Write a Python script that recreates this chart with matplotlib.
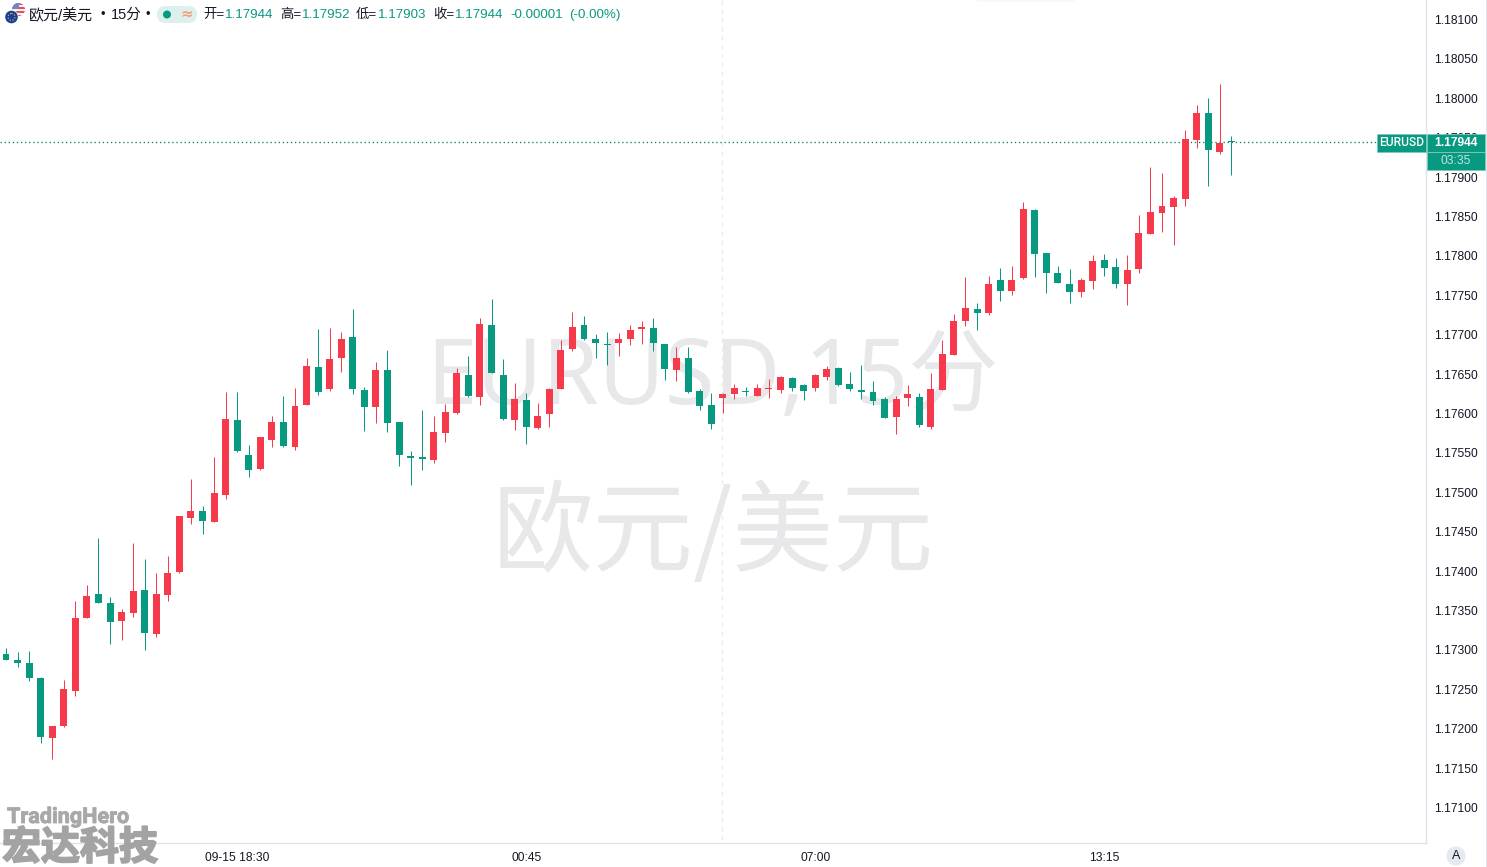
import matplotlib

matplotlib.use("Agg")
import matplotlib.patheffects as pe
import matplotlib.pyplot as plt
from matplotlib.patches import Circle, FancyBboxPatch, Rectangle

plt.rcParams["font.family"] = ["Liberation Sans", "Noto Sans CJK SC", "DejaVu Sans"]

# prices in 1e-5 units
OPEN = [117295, 117287, 117283, 117264, 117188, 117203, 117248, 117341, 117371, 117360,
        117337, 117347, 117376, 117320, 117370, 117399, 117467, 117476, 117462, 117497,
        117592, 117547, 117530, 117566, 117589, 117557, 117611, 117659, 117631, 117670,
        117697, 117630, 117608, 117655, 117589, 117546, 117545, 117541, 117575, 117601,
        117649, 117621, 117712, 117649, 117592, 117617, 117582, 117600, 117631, 117682,
        117712, 117695, 117688, 117689, 117695, 117707, 117708, 117688, 117655, 117670,
        117628, 117611, 117620, 117625, 117628, 117622, 117631, 117630, 117645, 117636,
        117632, 117646, 117658, 117637, 117630, 117627, 117619, 117596, 117620, 117621,
        117583, 117630, 117674, 117717, 117733, 117728, 117769, 117755, 117772, 117858,
        117804, 117778, 117764, 117754, 117768, 117795, 117786, 117764, 117783, 117828,
        117854, 117862, 117872, 117947, 117981, 117932, 117944]
HIGH = [117302, 117297, 117299, 117265, 117203, 117262, 117362, 117382, 117442, 117367,
        117352, 117436, 117415, 117398, 117419, 117470, 117517, 117483, 117545, 117627,
        117627, 117560, 117570, 117597, 117622, 117632, 117670, 117707, 117708, 117703,
        117733, 117634, 117665, 117681, 117589, 117552, 117604, 117597, 117612, 117658,
        117673, 117721, 117745, 117669, 117639, 117626, 117613, 117632, 117693, 117729,
        117724, 117701, 117703, 117702, 117712, 117717, 117721, 117688, 117685, 117684,
        117631, 117626, 117626, 117637, 117634, 117637, 117644, 117648, 117646, 117637,
        117650, 117660, 117659, 117653, 117661, 117641, 117621, 117622, 117636, 117626,
        117651, 117693, 117726, 117773, 117740, 117774, 117785, 117787, 117868, 117860,
        117804, 117787, 117783, 117772, 117801, 117802, 117797, 117801, 117852, 117913,
        117905, 117876, 117960, 117992, 118000, 118018, 117952]
LOW = [117287, 117278, 117260, 117182, 117161, 117202, 117241, 117341, 117360, 117308,
       117313, 117342, 117300, 117316, 117362, 117397, 117460, 117447, 117462, 117492,
       117551, 117519, 117528, 117557, 117557, 117554, 117611, 117623, 117628, 117653,
       117625, 117578, 117588, 117577, 117533, 117509, 117528, 117537, 117564, 117600,
       117621, 117611, 117651, 117592, 117579, 117561, 117580, 117583, 117631, 117679,
       117693, 117670, 117662, 117673, 117687, 117688, 117679, 117643, 117641, 117626,
       117604, 117580, 117601, 117619, 117622, 117622, 117620, 117626, 117628, 117617,
       117628, 117643, 117635, 117628, 117619, 117611, 117594, 117574, 117610, 117583,
       117580, 117630, 117674, 117711, 117706, 117725, 117743, 117750, 117771, 117773,
       117753, 117766, 117740, 117748, 117758, 117775, 117759, 117738, 117778, 117828,
       117830, 117814, 117863, 117937, 117889, 117929, 117903]
CLOSE = [117287, 117283, 117264, 117189, 117203, 117250, 117341, 117368, 117360, 117335,
         117348, 117375, 117321, 117371, 117398, 117470, 117476, 117464, 117499, 117593,
         117552, 117528, 117570, 117589, 117559, 117610, 117660, 117627, 117669, 117695,
         117631, 117608, 117655, 117588, 117547, 117543, 117542, 117577, 117602, 117651,
         117622, 117714, 117651, 117593, 117619, 117583, 117597, 117631, 117681, 117710,
         117694, 117689, 117687, 117694, 117706, 117710, 117689, 117657, 117671, 117627,
         117610, 117587, 117625, 117632, 117627, 117632, 117632, 117646, 117632, 117628,
         117649, 117657, 117636, 117631, 117627, 117616, 117594, 117619, 117625, 117585,
         117631, 117675, 117717, 117734, 117728, 117764, 117755, 117769, 117860, 117802,
         117778, 117766, 117754, 117769, 117794, 117785, 117764, 117782, 117829, 117856,
         117863, 117873, 117948, 117981, 117934, 117943, 117944]

PRICE_TICKS = [1.181, 1.1805, 1.18, 1.1795, 1.179, 1.1785, 1.178, 1.1775, 1.177, 1.1765,
               1.176, 1.1755, 1.175, 1.1745, 1.174, 1.1735, 1.173, 1.1725, 1.172, 1.1715, 1.171]
TIME_TICKS = [20, 45, 70, 95]
TIME_LABELS = ["09-15 18:30", "00:45", "07:00", "13:15"]
LAST_PRICE = 1.17944

GREEN = "#089981"
RED = "#F63A4B"
TEXT = "#131722"
LINE = "#E0E3EB"
WATERMARK = "#E8E8EA"
W, H = 1487, 867


def px_axes(fig, zorder):
    """Axes in image pixels, for things that are not on the price scale."""
    a = fig.add_axes([0, 0, 1, 1], zorder=zorder)
    a.set_xlim(0, W)
    a.set_ylim(H, 0)
    a.axis("off")
    return a


def fs(px):
    return px * 0.72


fig = plt.figure(figsize=(W / 100, H / 100), dpi=100, facecolor="white")

# watermark under the candles
bg = px_axes(fig, 0)
bg.text(713, 380, "EURUSD,15分", fontsize=fs(90.5), color=WATERMARK, ha="center", va="center",
        family=["Noto Sans", "Noto Sans CJK SC"])
bg.text(713.5, 535, "欧元/美元", fontsize=fs(100.5), color=WATERMARK, ha="center", va="center",
        family=["Noto Sans CJK SC"])
bg.plot([722, 722], [0, 843], color="#E9EAEE", lw=0.8, ls=(0, (4, 4)))
bg.add_patch(FancyBboxPatch((975, -6), 100, 8, boxstyle="round,pad=0,rounding_size=4", color="#F8F8F8", lw=0))

# candles
ax = fig.add_axes([0, 24 / H, 1426 / W, 843 / H], zorder=1)
ax.patch.set_alpha(0)
ax.set_xlim(-6.0 / 11.56, (1426 - 6.0) / 11.56)
ax.set_ylim(1.181 - 823.5 / 78800, 1.181 + 19.5 / 78800)

ax.axhline(LAST_PRICE, color="#0B7F6C", lw=0.95, ls=(0, (1, 2.1)), zorder=2)

for i in range(len(OPEN)):
    o, h, l, c = OPEN[i] / 1e5, HIGH[i] / 1e5, LOW[i] / 1e5, CLOSE[i] / 1e5
    col = RED if c > o else GREEN
    ax.vlines(i, l, h, color=col, lw=0.72, zorder=3)
    ax.bar(i, max(abs(c - o), 1.2e-5), bottom=min(o, c), width=0.6, color=col, lw=0, zorder=4)

ax.yaxis.tick_right()
ax.set_yticks(PRICE_TICKS)
ax.set_yticklabels([f"{p:.5f}" for p in PRICE_TICKS])
ax.set_xticks(TIME_TICKS)
ax.set_xticklabels(TIME_LABELS)
ax.tick_params(axis="y", length=0, pad=5.8, labelsize=fs(12), labelcolor=TEXT)
ax.tick_params(axis="x", length=0, pad=6.5, labelsize=fs(12), labelcolor=TEXT)
for name in ["top", "left"]:
    ax.spines[name].set_visible(False)
for name in ["right", "bottom"]:
    ax.spines[name].set_color(LINE)
    ax.spines[name].set_linewidth(1)

# everything on top, in pixels
top = px_axes(fig, 2)
top.add_patch(Rectangle((1427, 134), 58, 36, fc=GREEN, ec="#7CC7B8", lw=0.5))
top.add_patch(Rectangle((1377, 134), 49, 18, fc=GREEN, ec="#7CC7B8", lw=0.5))
top.plot([1427, 1485], [152, 152], color="#7CC7B8", lw=0.7)
top.text(1402, 143, "EURUSD", fontsize=fs(12), color="white", ha="center", va="center",
         family=["Roboto"], fontweight="medium")
top.text(1456, 143, "1.17944", fontsize=fs(12), color="white", ha="center", va="center",
         fontweight="bold")
top.text(1456, 161, "03:35", fontsize=fs(12), color="#BFE5DD", ha="center", va="center")
top.plot([1485.5, 1485.5], [0, 867], color=LINE, lw=0.7)

# A button
top.add_patch(Circle((1456, 856), 9.5, color="#E6E9F0", lw=0))
top.text(1456, 856, "A", fontsize=fs(12.5), color=TEXT, ha="center", va="center")

# flags
us = Circle((18.5, 9.5), 6.5, transform=top.transData)
for k in range(7):
    st = top.add_patch(Rectangle((12, 3 + k * 2), 13, 2, color="#E0525E" if k % 2 == 0 else "#F7F2F2", lw=0))
    st.set_clip_path(us)
canton = top.add_patch(Rectangle((12, 3), 6.5, 6, color="#6F86C4", lw=0))
canton.set_clip_path(us)
top.add_patch(Circle((11.5, 17), 7, color="white", lw=0))
top.add_patch(Circle((11.5, 17), 6.3, color="#1B3F94", lw=0))
top.add_patch(Circle((11.5, 17), 3.5, fill=False, ec="#E8C44A", lw=0.8, ls=":"))

# header
top.text(29, 15, "欧元/美元", fontsize=fs(15), color=TEXT, va="center")
top.text(103, 15, "•", fontsize=fs(13), color=TEXT, ha="center", va="center")
top.text(111, 15, "15分", fontsize=fs(14.5), color=TEXT, va="center")
top.text(148, 15, "•", fontsize=fs(13), color=TEXT, ha="center", va="center")
top.add_patch(FancyBboxPatch((157, 6), 40, 17, boxstyle="round,pad=0,rounding_size=8.5",
                             mutation_aspect=1, color="#DDF1EC", lw=0))
top.add_patch(Circle((167, 14.5), 4, color=GREEN, lw=0))
top.text(187, 14.5, "≈", fontsize=fs(15), color="#F5A07A", ha="center", va="center",
         fontweight="bold", family=["DejaVu Sans"])
for x, s, col in [(203, "开=", TEXT), (225, "1.17944", GREEN), (280, "高=", TEXT), (302, "1.17952", GREEN),
                  (356, "低=", TEXT), (378, "1.17903", GREEN), (433, "收=", TEXT), (455, "1.17944", GREEN),
                  (510, "-0.00001", GREEN), (569, "(-0.00%)", GREEN)]:
    top.text(x, 15, s, fontsize=fs(13.4), color=col, va="center")

# logo
top.text(7, 817, "TradingHero", fontsize=fs(21.6), color="#A8A8A8", va="center", fontweight="bold",
         family=["Roboto", "DejaVu Sans"],
         path_effects=[pe.withStroke(linewidth=0.6, foreground="#A8A8A8")])
top.text(2, 848, "宏达科技", fontsize=fs(39), color="#A3A3A3", va="center", fontweight="black",
         family=["Noto Sans CJK SC"],
         path_effects=[pe.withStroke(linewidth=1.4, foreground="#A3A3A3")])

fig.savefig("out.png", dpi=100)
